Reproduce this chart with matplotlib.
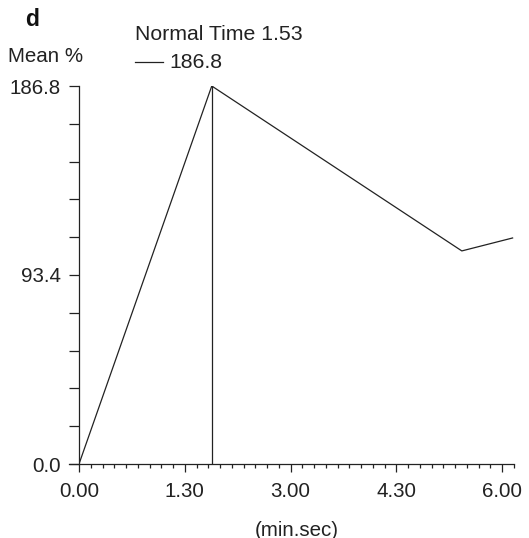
import matplotlib
matplotlib.use("Agg")
import matplotlib.pyplot as plt
from matplotlib.lines import Line2D
import numpy as np

plt.rcParams['font.family'] = ['Liberation Sans', 'DejaVu Sans']

# Data (time in minutes, mean %)
times = [0.0, 1.883, 5.43, 6.15]
values = [0.0, 186.8, 105.3, 111.7]
peak_time = 1.883
peak_value = 186.8
x_major = [0.0, 1.5, 3.0, 4.5, 6.0]
x_labels = ['0.00', '1.30', '3.00', '4.30', '6.00']
y_major = [0.0, 93.4, 186.8]
y_labels = ['0.0', '93.4', '186.8']

W, H = 529, 538
fig = plt.figure(figsize=(W/100, H/100), dpi=100)
ax = fig.add_axes([79/W, 1-464/H, (514-79)/W, (464-86)/H])

col = '#222222'
ax.plot(times, values, color=col, lw=0.9)
ax.plot([peak_time, peak_time], [0, peak_value], color=col, lw=0.9)

ax.set_xlim(0, 6.17)
ax.set_ylim(0, 186.8)
for s in ['top', 'right']:
    ax.spines[s].set_visible(False)
for s in ['left', 'bottom']:
    ax.spines[s].set_color(col)
    ax.spines[s].set_linewidth(0.9)
ax.spines['bottom'].set_bounds(-0.14, 6.17)

ax.set_xticks(x_major)
ax.set_xticklabels(x_labels)
ax.set_xticks(np.arange(0, 6.2, 1/6), minor=True)
ax.set_yticks(y_major)
ax.set_yticklabels(y_labels)
ax.set_yticks(np.arange(0, 186.9, 18.68), minor=True)

ax.tick_params(axis='x', which='major', direction='out', length=6, width=0.9,
               color=col, labelsize=14.8, pad=7, labelcolor=col)
ax.tick_params(axis='x', which='minor', direction='out', length=3, width=0.9, color=col)
ax.tick_params(axis='y', which='both', direction='out', length=7, width=0.9,
               color=col, labelsize=14.8, pad=6, labelcolor=col)

ax.set_xlabel('(min.sec)', fontsize=14.8, color=col, labelpad=14)

fig.text(25/W, 1-20/H, 'd', fontsize=16.5, fontweight='bold', va='center', ha='left', color='#111111')
fig.text(8/W, 1-57/H, 'Mean %', fontsize=14.8, va='center', ha='left', color=col)
fig.text(135/W, 1-34/H, 'Normal Time 1.53', fontsize=15.3, va='center', ha='left', color=col)
fig.add_artist(Line2D([135/W, 163/W], [1-62/H, 1-62/H], color=col, lw=0.9))
fig.text(169/W, 1-62/H, '186.8', fontsize=15.3, va='center', ha='left', color=col)

fig.savefig('out.png', dpi=100)
